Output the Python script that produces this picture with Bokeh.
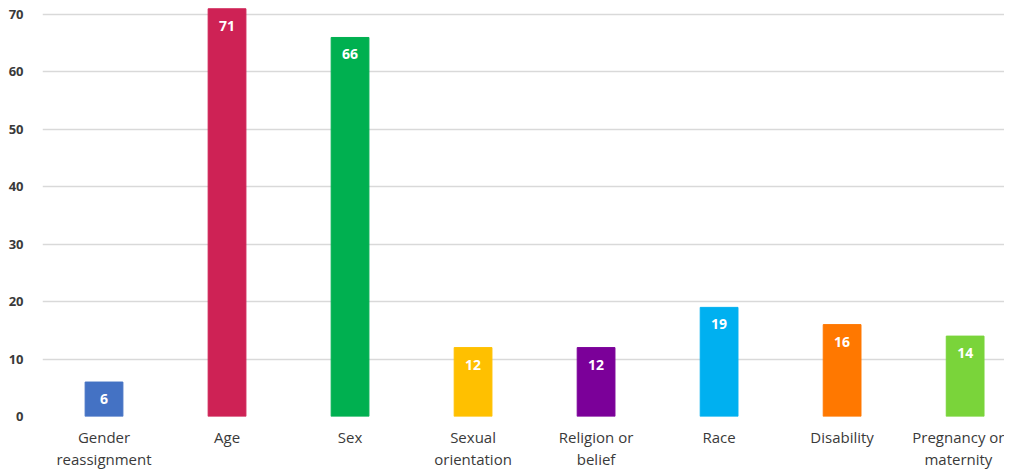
from bokeh.plotting import figure
from bokeh.models import ColumnDataSource, FixedTicker, Range1d
from bokeh.embed import file_html
from bokeh.resources import INLINE
from bokeh.core.properties import value

categories = ["Gender\nreassignment", "Age", "Sex", "Sexual\norientation",
              "Religion or\nbelief", "Race", "Disability", "Pregnancy or\nmaternity"]
counts = [6, 71, 66, 12, 12, 19, 16, 14]
colors = ["#4472C4", "#CE2255", "#00B050", "#FFC000", "#7B0099", "#00B0F0", "#FF7800", "#7AD43A"]
y_ticks = [0, 10, 20, 30, 40, 50, 60, 70]

xs = [i + 0.5 for i in range(len(categories))]
labels = [str(c) for c in counts]

src = ColumnDataSource(dict(x=xs, top=counts, color=colors, label=labels))

p = figure(frame_width=962, frame_height=416, output_backend="svg", toolbar_location=None,
           x_range=Range1d(0, 7.82), y_range=Range1d(0, 72.44),
           min_border_left=42, min_border_right=0, min_border_top=0, min_border_bottom=0)
p.outline_line_color = None
p.background_fill_color = "white"

p.vbar(x="x", top="top", width=0.307, bottom=0, color="color", source=src)
p.text(x="x", y="top", text="label", source=src, text_color="white",
       text_font=value("Open Sans"), text_font_style="bold", text_font_size="14px",
       text_align="center", text_baseline="middle", y_offset=17)

p.xgrid.grid_line_color = None
p.ygrid.grid_line_color = "#D9D9D9"
p.ygrid.grid_line_width = 1.5
p.yaxis.ticker = FixedTicker(ticks=y_ticks)
p.xaxis.ticker = FixedTicker(ticks=xs)
p.xaxis.major_label_overrides = {x: c for x, c in zip(xs, categories)}

for ax in (p.xaxis, p.yaxis):
    ax.axis_line_color = None
    ax.major_tick_line_color = None
    ax.minor_tick_line_color = None
    ax.major_label_text_color = "#3A3A3A"
    ax.major_label_text_font = "Open Sans"

p.yaxis.major_label_text_font_size = "13px"
p.yaxis.major_label_text_font_style = "bold"
p.yaxis.major_label_standoff = 13
p.xaxis.major_label_text_font_size = "15px"
p.xaxis.major_label_text_line_height = 1.1
p.xaxis.major_label_standoff = 4

open("out.html", "w").write(file_html(p, INLINE))
